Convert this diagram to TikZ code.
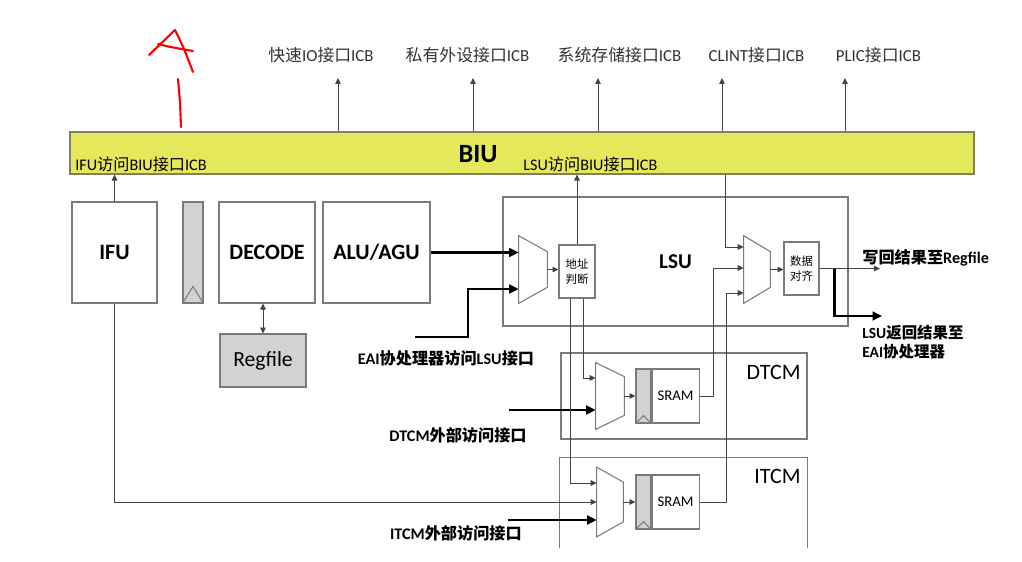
\documentclass[tikz,border=0pt]{standalone}
\usepackage{fontspec}
\setmainfont{Carlito}
\newfontfamily\cjk{Noto Sans CJK SC}
\usetikzlibrary{arrows.meta}
\definecolor{BIUYellow}{HTML}{E6E85C}
\definecolor{BIUEdge}{HTML}{808060}
\definecolor{BoxEdge}{HTML}{7A7A7A}
\definecolor{RegGray}{HTML}{D2D2D2}
\definecolor{WireGray}{HTML}{444444}
\newcommand{\zh}[1]{{\cjk #1}}
\newcommand{\muxshape}[2]{\draw[BoxEdge,line width=0.6pt] (#1.north west) -- ([yshift=-#2]#1.north east) -- ([yshift=#2]#1.south east) -- (#1.south west) -- cycle;}
\newcommand{\clk}[2]{\draw[BoxEdge,line width=0.6pt] (#1.south west) -- ([yshift=#2]#1.south) -- (#1.south east);}
\tikzset{
  blk/.style={draw=BoxEdge,line width=0.6pt,inner sep=0},
  unit/.style={blk,minimum height=2.02cm,font=\bfseries\fontsize{12.5}{15}\selectfont},
  regbar/.style={blk,fill=RegGray,minimum width=0.30cm,minimum height=1.08cm},
  sram/.style={blk,minimum width=0.94cm,minimum height=1.08cm,anchor=west,font=\fontsize{8.4}{10}\selectfont},
  muxbox/.style={inner sep=0,minimum width=0.54cm},
  wire/.style={WireGray,line width=0.55pt},
  wirearr/.style={wire,-{Triangle[length=3.4pt,width=3.2pt]}},
  bus/.style={black,line width=1.3pt,-{Triangle[length=5.4pt,width=5pt]}},
  lbl/.style={inner sep=0,text=black!80,font=\fontsize{9.6}{11.5}\selectfont},
  lblsmall/.style={inner sep=0,font=\fontsize{9.2}{11}\selectfont},
  lblbold/.style={inner sep=0,font=\bfseries\fontsize{9.2}{11}\selectfont},
  tag/.style={inner sep=0,font=\fontsize{12.5}{15}\selectfont},
  scribble/.style={red,line width=1.2pt,line cap=round,line join=round}
}
\begin{document}
\begin{tikzpicture}[x=1cm,y=1cm]
\path[use as bounding box] (0,0) rectangle (20.44,11.22);
\node[draw=BIUEdge,fill=BIUYellow,line width=0.6pt,minimum width=18.08cm,minimum height=0.84cm,inner sep=0] (biu) at (10.44,8.16) {};
\node[inner sep=0,font=\bfseries\fontsize{15}{18}\selectfont] (biutxt) at (9.56,8.14) {BIU};
\node[lblsmall,anchor=west] (ifuicb) at (1.50,7.93) {IFU\zh{访问}BIU\zh{接口}ICB};
\node[lblsmall,anchor=west] (lsuicb) at (10.46,7.93) {LSU\zh{访问}BIU\zh{接口}ICB};
\coordinate (io) at (6.76,9.66);
\coordinate (ppi) at (9.46,9.66);
\coordinate (mem) at (11.96,9.66);
\coordinate (clint) at (14.44,9.66);
\coordinate (plic) at (16.90,9.66);
\draw[wirearr] (biu.north -| io) -- (io);
\draw[wirearr] (biu.north -| ppi) -- (ppi);
\draw[wirearr] (biu.north -| mem) -- (mem);
\draw[wirearr] (biu.north -| clint) -- (clint);
\draw[wirearr] (biu.north -| plic) -- (plic);
\node[lbl] (iolbl) at (6.42,10.12) {\zh{快速}IO\zh{接口}ICB};
\node[lbl] (ppilbl) at (9.35,10.12) {\zh{私有外设接口}ICB};
\node[lbl] (memlbl) at (12.39,10.12) {\zh{系统存储接口}ICB};
\node[lbl] (clintlbl) at (15.13,10.12) {CLINT\zh{接口}ICB};
\node[lbl] (pliclbl) at (17.57,10.12) {PLIC\zh{接口}ICB};
\draw[scribble] (2.98,10.12) -- (3.50,10.62) .. controls (3.66,10.30) .. (3.86,9.78);
\draw[scribble] (3.16,10.34) .. controls (3.40,10.28) .. (3.86,10.20);
\draw[scribble] (3.56,9.64) .. controls (3.60,9.20) .. (3.62,8.68);
\node[unit,minimum width=1.70cm] (ifu) at (2.29,6.17) {IFU};
\node[blk,fill=RegGray,minimum width=0.40cm,minimum height=2.02cm] (pipe) at (3.86,6.17) {};
\clk{pipe}{0.34cm}
\node[unit,minimum width=1.92cm] (decode) at (5.34,6.17) {DECODE};
\node[unit,minimum width=2.14cm] (alu) at (7.53,6.17) {ALU/AGU};
\node[blk,fill=RegGray,minimum width=1.72cm,minimum height=1.06cm,font=\fontsize{12.3}{15}\selectfont] (regfile) at (5.26,4.01) {Regfile};
\draw[wire,{Triangle[length=3.4pt,width=3.2pt]}-{Triangle[length=3.4pt,width=3.2pt]}] (regfile.north) -- (regfile.north |- decode.south);
\draw[wirearr] (ifu.north) -- (ifu.north |- biu.south);
\node[blk,minimum width=6.90cm,minimum height=2.58cm,font=\bfseries\fontsize{12}{14}\selectfont] (lsu) at (13.51,5.99) {LSU};
\node[muxbox,minimum width=0.56cm,minimum height=1.34cm] (mux1) at (10.66,5.83) {};
\muxshape{mux1}{0.32cm}
\draw[bus] (alu.east) -- (alu.east -| mux1.west);
\coordinate (eai) at (8.30,4.48);
\draw[bus] (eai) -- ++(1.06,0) |- ([yshift=-0.39cm]mux1.west);
\node[lblbold] (eailbl) at (8.92,4.06) {EAI\zh{协处理器访问}LSU\zh{接口}};
\node[blk,minimum width=0.72cm,minimum height=1.06cm,align=center,font=\fontsize{6.5}{8.5}\selectfont] (addr) at (11.54,5.79) {\zh{地址}\\\zh{判断}};
\draw[wirearr] (mux1.east) -- (mux1.east -| addr.west);
\draw[wirearr] (addr.north) -- (addr.north |- biu.south);
\node[muxbox,minimum width=0.52cm,minimum height=1.34cm] (mux2) at (15.14,5.83) {};
\muxshape{mux2}{0.32cm}
\node[blk,minimum width=0.70cm,minimum height=1.06cm,align=center,font=\fontsize{6.5}{8.5}\selectfont] (align) at (16.03,5.85) {\zh{数据}\\\zh{对齐}};
\draw[wirearr] (mux2.east) -- (mux2.east -| align.west);
\coordinate (ret) at (14.50,6.28);
\draw[wirearr] (ret |- biu.south) -- (ret) -- (ret -| mux2.west);
\node[blk,minimum width=4.92cm,minimum height=1.72cm] (dtcm) at (13.68,3.30) {};
\node[tag,anchor=east] (dtcmlbl) at (16.02,3.78) {DTCM};
\node[muxbox,minimum width=0.56cm,minimum height=1.32cm] (dmux) at (12.20,3.30) {};
\muxshape{dmux}{0.28cm}
\node[regbar] (dreg) at (12.87,3.30) {};
\clk{dreg}{0.16cm}
\node[sram] (dsram) at (dreg.east) {SRAM};
\draw[wirearr] (dmux.east) -- (dreg.west);
\draw[wirearr] ([xshift=0.12cm]addr.south) |- ([yshift=0.36cm]dmux.west);
\coordinate (dext) at (10.18,3.02);
\draw[bus] (dext) -- (dext -| dmux.west);
\node[lblbold] (dextlbl) at (9.16,2.52) {DTCM\zh{外部访问接口}};
\draw[wirearr] (dsram.east) -- ++(0.28,0) |- ([yshift=0.03cm]mux2.west);
\node[inner sep=0,minimum width=4.94cm,minimum height=1.80cm] (itcm) at (13.67,1.16) {};
\draw[BoxEdge,line width=0.6pt] (itcm.south west) -- (itcm.north west) -- (itcm.north east) -- (itcm.south east);
\node[tag,anchor=east] (itcmlbl) at (16.02,1.70) {ITCM};
\node[muxbox,minimum width=0.52cm,minimum height=1.38cm] (imux) at (12.20,1.18) {};
\muxshape{imux}{0.30cm}
\node[regbar] (ireg) at (12.87,1.18) {};
\clk{ireg}{0.16cm}
\node[sram] (isram) at (ireg.east) {SRAM};
\draw[wirearr] (imux.east) -- (ireg.west);
\draw[wirearr] ([xshift=-0.14cm]addr.south) |- ([yshift=0.38cm]imux.west);
\draw[wirearr] (ifu.south) |- (imux.west);
\coordinate (iext) at (10.16,0.82);
\draw[bus] (iext) -- (iext -| imux.west);
\node[lblbold] (iextlbl) at (9.12,0.56) {ITCM\zh{外部访问接口}};
\draw[wirearr] (isram.east) -- ++(0.54,0) |- ([yshift=-0.47cm]mux2.west);
\coordinate (wb) at (17.60,5.86);
\draw[wirearr] (align.east) -- (align.east -| wb);
\node[lblbold,anchor=west] (wblbl) at (17.24,6.06) {\zh{写回结果至}Regfile};
\coordinate (eaiout) at (17.64,4.90);
\draw[bus] ([xshift=0.30cm]align.east) |- (eaiout);
\node[lblbold,anchor=west,align=left,font=\bfseries\fontsize{8.8}{10.8}\selectfont] (eaioutlbl) at (17.24,4.38) {LSU\zh{返回结果至}\\EAI\zh{协处理器}};
\end{tikzpicture}
\end{document}
